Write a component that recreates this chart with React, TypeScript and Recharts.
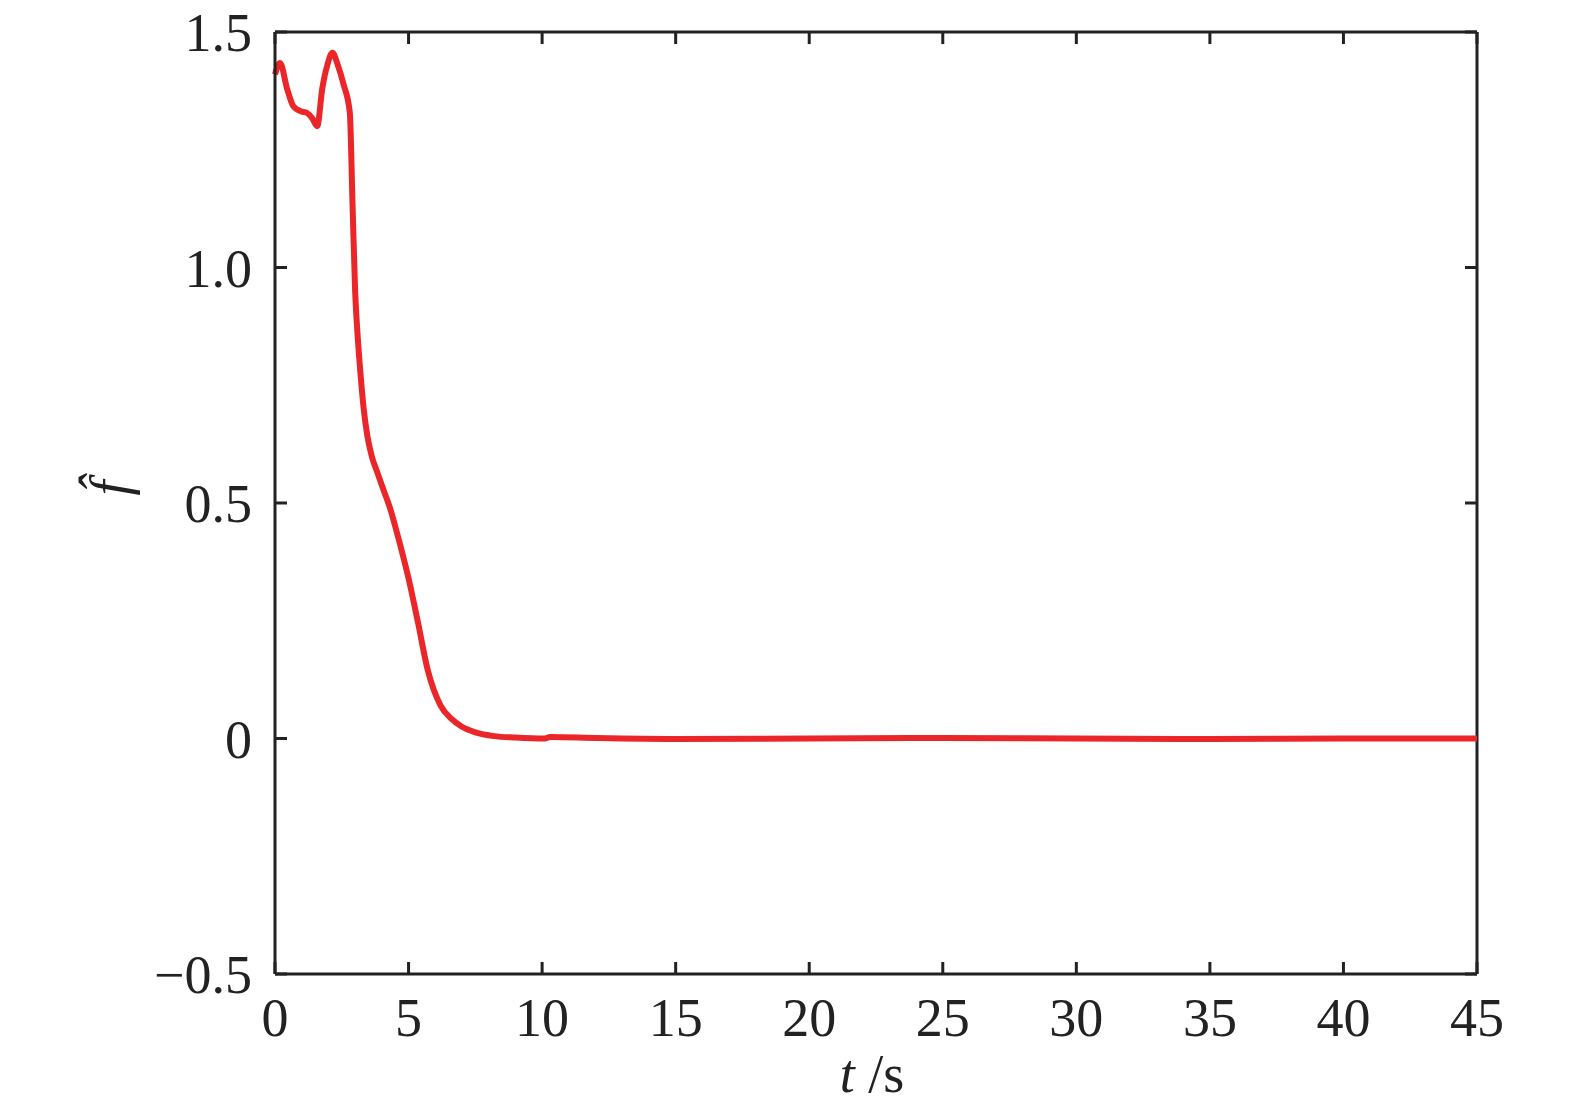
import { LineChart, Line, XAxis, YAxis, Label, ReferenceLine } from 'recharts';

// time samples (s) and estimated f-hat values
const tValues = [
  0, 0.19, 0.45, 0.68, 0.95, 1.2, 1.39, 1.58, 1.77, 1.96, 2.15, 2.35, 2.56, 2.8,
  2.9, 3.0, 3.1, 3.2, 3.32, 3.45, 3.62, 3.83, 4.08, 4.33, 4.55, 4.77, 5.0, 5.34, 5.72,
  6.2, 6.6, 6.97, 7.5, 8.2, 9.0, 10.1, 10.3, 12, 15, 20, 25, 30, 35, 40, 45,
];
const fValues = [
  1.41, 1.434, 1.38, 1.343, 1.332, 1.328, 1.317, 1.3, 1.38, 1.43, 1.456, 1.43, 1.39, 1.33,
  1.14, 0.95, 0.85, 0.775, 0.7, 0.645, 0.6, 0.565, 0.525, 0.485, 0.44, 0.393, 0.34, 0.25, 0.145,
  0.07, 0.042, 0.026, 0.013, 0.005, 0.002, 0.0, 0.003, 0.001, -0.001, 0, 0.001, 0, -0.001, 0, 0,
];

const xTicks = [0, 5, 10, 15, 20, 25, 30, 35, 40, 45];
const yTicks = [-0.5, 0, 0.5, 1.0, 1.5];
const X_MIN = 0, X_MAX = 45, Y_MIN = -0.5, Y_MAX = 1.5;

const data = tValues.map((t, i) => ({ t, f: fValues[i] }));

const FONT = '"Liberation Serif", "DejaVu Serif", serif';
const INK = '#222';

// inward tick length on the top/right frame, in data units (~12px)
const TICK_DX = 0.45;
const TICK_DY = 0.0256;

function fmtY(v: number) {
  if (v === 0) return '0';
  const s = v.toFixed(1);
  return v < 0 ? '\u2212' + s.slice(1) : s;
}

export default function App() {
  return (
    <div style={{ position: 'absolute', left: 0, top: 0, background: '#fff' }}>
      <LineChart width={1575} height={1111} data={data} margin={{ top: 32, right: 98, bottom: 0, left: 0 }}>
        <XAxis
          dataKey="t"
          type="number"
          domain={[X_MIN, X_MAX]}
          ticks={xTicks}
          height={137}
          axisLine={{ stroke: INK, strokeWidth: 3 }}
          tickLine={{ stroke: INK, strokeWidth: 3 }}
          tickSize={-12}
          tickMargin={36}
          tick={{ fill: INK, fontSize: 54, fontFamily: FONT }}
        >
          <Label
            content={() => (
              <text x={872} y={1092} textAnchor="middle" fill={INK} fontSize={54} fontFamily={FONT}>
                <tspan fontStyle="italic">t</tspan>
                <tspan> /s</tspan>
              </text>
            )}
          />
        </XAxis>
        <YAxis
          type="number"
          domain={[Y_MIN, Y_MAX]}
          ticks={yTicks}
          width={275}
          axisLine={{ stroke: INK, strokeWidth: 3 }}
          tickLine={{ stroke: INK, strokeWidth: 3 }}
          tickSize={-12}
          tickMargin={35}
          tickFormatter={fmtY}
          tick={{ fill: INK, fontSize: 54, fontFamily: FONT }}
        >
          <Label
            content={() => (
              <text
                x={128}
                y={488}
                textAnchor="middle"
                fill={INK}
                fontSize={54}
                fontFamily={FONT}
                fontStyle="italic"
                transform="rotate(-90 128 488)"
              >
                f̂
              </text>
            )}
          />
        </YAxis>

        {/* top and right sides of the box */}
        <ReferenceLine y={Y_MAX} stroke={INK} strokeWidth={3} />
        <ReferenceLine x={X_MAX} stroke={INK} strokeWidth={3} />
        {xTicks.map((v) => (
          <ReferenceLine
            key={'tx' + v}
            segment={[{ x: v, y: Y_MAX }, { x: v, y: Y_MAX - TICK_DY }]}
            stroke={INK}
            strokeWidth={3}
          />
        ))}
        {yTicks.map((v) => (
          <ReferenceLine
            key={'ry' + v}
            segment={[{ x: X_MAX, y: v }, { x: X_MAX - TICK_DX, y: v }]}
            stroke={INK}
            strokeWidth={3}
          />
        ))}

        <Line
          type="monotone"
          dataKey="f"
          stroke="#ea2629"
          strokeWidth={6}
          dot={false}
          isAnimationActive={false}
        />
      </LineChart>
    </div>
  );
}
